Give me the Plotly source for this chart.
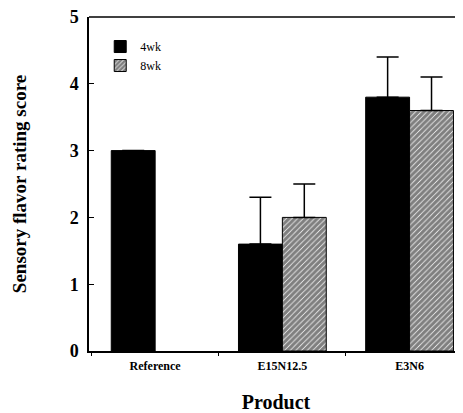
import plotly.graph_objects as go

products = ["Reference", "E15N12.5", "E3N6"]
wk4 = [3.0, 1.6, 3.8]
wk4_err = [0.0, 0.7, 0.6]
wk8 = [None, 2.0, 3.6]
wk8_err = [0.0, 0.5, 0.5]
y_ticks = [0, 1, 2, 3, 4, 5]

serif = "Liberation Serif, Times New Roman, serif"

fig = go.Figure()
fig.add_trace(go.Bar(
    name="4wk", x=products, y=wk4,
    marker=dict(color="black", line=dict(color="black", width=1)),
    error_y=dict(type="data", symmetric=False, array=wk4_err, arrayminus=[0, 0, 0],
                 color="black", thickness=1.5, width=11),
))
fig.add_trace(go.Bar(
    name="8wk", x=products, y=wk8,
    marker=dict(color="white", line=dict(color="black", width=1),
                pattern=dict(shape="/", fgcolor="black", bgcolor="white", size=4, solidity=0.8)),
    error_y=dict(type="data", symmetric=False, array=wk8_err, arrayminus=[0, 0, 0],
                 color="black", thickness=1.5, width=11),
))

fig.update_layout(
    width=455, height=405,
    margin=dict(l=81, r=0, t=9, b=62),
    paper_bgcolor="white", plot_bgcolor="white",
    barmode="group", bargap=0.31, bargroupgap=0,
    font=dict(family=serif, color="black"),
    showlegend=True,
    legend=dict(x=0.03, y=0.955, xanchor="left", yanchor="top",
                font=dict(family=serif, size=12, color="black"),
                bgcolor="rgba(0,0,0,0)", itemwidth=30),
    xaxis=dict(
        range=[-0.52, 2.42], showline=True, linecolor="black", linewidth=1.5,
        ticks="outside", tickson="boundaries", ticklen=3, tickcolor="black",
        tickfont=dict(family=serif, size=12, color="black", weight="bold"),
        ticklabelstandoff=3, ticklabeloverflow="allow",
        title=dict(text="<b>Product</b>", font=dict(family=serif, size=20, color="black"), standoff=26),
        showgrid=False, zeroline=False, automargin=False,
    ),
    yaxis=dict(
        range=[0, 5], tickvals=y_ticks, showline=True, linecolor="black", linewidth=1.5,
        ticks="inside", ticklen=5, tickcolor="black",
        tickfont=dict(family=serif, size=18, color="black", weight="bold"),
        ticklabelstandoff=5, ticklabeloverflow="allow",
        title=dict(text="<b>Sensory flavor rating score</b>", font=dict(family=serif, size=19, color="black"), standoff=38),
        showgrid=False, zeroline=False, automargin=False,
    ),
)
fig.add_shape(type="line", xref="paper", yref="paper", x0=0, x1=1, y0=1, y1=1,
              line=dict(color="black", width=1.5))

fig.write_html("out.html")
